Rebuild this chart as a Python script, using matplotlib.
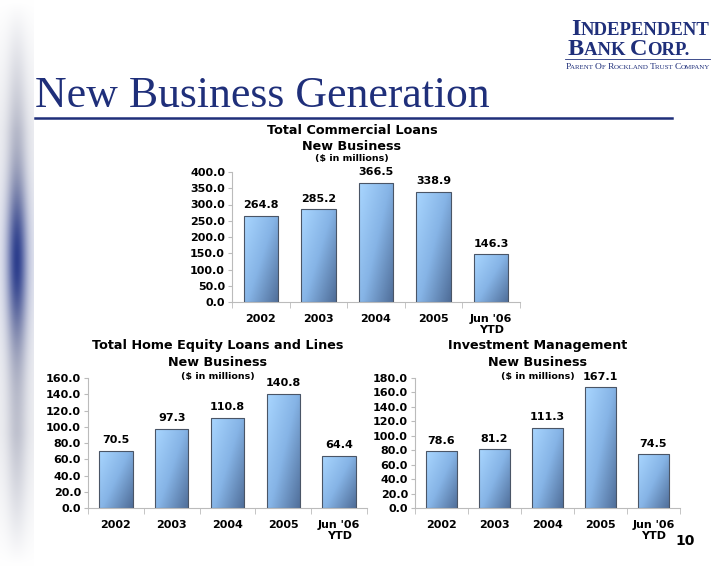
import numpy as np
import matplotlib
matplotlib.use("Agg")
import matplotlib.pyplot as plt
from matplotlib.colors import LinearSegmentedColormap
from matplotlib.lines import Line2D

categories = ["2002", "2003", "2004", "2005", "Jun '06\nYTD"]
commercial = [264.8, 285.2, 366.5, 338.9, 146.3]
home_equity = [70.5, 97.3, 110.8, 140.8, 64.4]
investment = [78.6, 81.2, 111.3, 167.1, 74.5]

W, H = 720, 566
navy = "#1f2f7a"
bar_cmap = LinearSegmentedColormap.from_list("bar", ["#a9d6ff", "#86b4e6", "#4f6d98"])

fig = plt.figure(figsize=(W / 100, H / 100), dpi=100)
fig.patch.set_facecolor("white")
renderer = fig.canvas.get_renderer()


def px_axes(left, top, right, bottom):
    # convert pixel box to figure fraction
    return fig.add_axes([left / W, 1 - bottom / H, (right - left) / W, (bottom - top) / H])


def small_caps(x, y, words, big, small, ha="left", weight="normal"):
    # draw words in small caps, x/y in pixels (baseline)
    pieces = []
    for i, w in enumerate(words):
        word = w if i == len(words) - 1 else w + " "
        pieces.append((word[0], big))
        if len(word) > 1:
            pieces.append((word[1:].upper(), small))
    texts = []
    cx = x
    for s, size in pieces:
        t = fig.text(cx / W, 1 - y / H, s, family="Liberation Serif", fontsize=size,
                     color=navy, va="baseline", ha="left", fontweight=weight)
        cx += t.get_window_extent(renderer).width
        texts.append(t)
    if ha == "right":
        shift = cx - x
        for t in texts:
            px, py = t.get_position()
            t.set_position((px - shift / W, py))


# left decorative strip
strip = fig.add_axes([0, 0, 34 / W, 1])
yy = np.linspace(0, 1, 300)[:, None]
xx = np.linspace(0, 1, 40)[None, :]
core = np.exp(-((xx - 0.5) / 0.3) ** 2)
vert = np.exp(-((yy - 0.46) / 0.15) ** 2)
outer = np.clip(np.sin(np.pi * yy) * 1.5, 0, 1)
dark = np.clip(0.12 * outer + core * (0.32 * outer + 0.55 * vert), 0, 1)
base = np.array([1.0, 1.0, 1.0])
grey = np.array([0.45, 0.47, 0.58])
deep = np.array([0.17, 0.24, 0.55])
mix = vert[..., None] * deep[None, None, :] + (1 - vert[..., None]) * grey[None, None, :]
img = base[None, None, :] * (1 - dark[..., None]) + mix * dark[..., None]
strip.imshow(img, aspect="auto", extent=[0, 1, 0, 1], origin="upper")
strip.axis("off")

# page title and rule
fig.text(35 / W, 1 - 107 / H, "New Business Generation", family="Liberation Serif",
         fontsize=31.5, color=navy, va="baseline", ha="left")
fig.add_artist(Line2D([35 / W, 672 / W], [1 - 118 / H, 1 - 118 / H], color=navy, lw=1.8))

# logo
small_caps(710, 35, ["INDEPENDENT"], 17.5, 13.5, ha="right", weight="bold")
small_caps(690, 55, ["BANK", "CORP."], 17.5, 13.5, ha="right", weight="bold")
fig.add_artist(Line2D([565 / W, 710 / W], [1 - 59 / H, 1 - 59 / H], color=navy, lw=0.6))
small_caps(710, 69, ["PARENT", "OF", "ROCKLAND", "TRUST", "COMPANY"], 6.8, 5.0, ha="right")

fig.text(685 / W, 1 - 541 / H, "10", fontsize=10, fontweight="bold", ha="center", va="center")


def chart(ax, values, ymax, step, titles, tcx, ty):
    x = np.arange(len(values))
    bars = ax.bar(x, values, width=0.6, color="none", edgecolor="#4a5566", linewidth=0.8, zorder=3)
    grad = np.linspace(0, 1, 64)
    gx, gy = np.meshgrid(grad, grad)
    g = 0.55 * gx + 0.45 * gy
    for b in bars:
        x0, y0 = b.get_x(), b.get_y()
        im = ax.imshow(g, cmap=bar_cmap, extent=[x0, x0 + b.get_width(), y0, y0 + b.get_height()],
                       origin="upper", aspect="auto", zorder=2, vmin=0, vmax=1)
        im.set_clip_path(b)
    for xi, v in zip(x, values):
        ax.annotate(f"{v:.1f}", (xi, v), xytext=(0, 4), textcoords="offset points",
                    ha="center", va="bottom", fontsize=8, fontweight="bold")
    ax.set_xlim(-0.5, len(values) - 0.5)
    ax.set_ylim(0, ymax)
    ax.set_yticks(np.arange(0, ymax + step / 2, step))
    ax.set_yticklabels([f"{t:.1f}" for t in np.arange(0, ymax + step / 2, step)])
    ax.set_xticks(x)
    ax.set_xticklabels(categories, linespacing=1.1)
    ax.set_xticks(np.arange(-0.5, len(values), 1), minor=True)
    ax.tick_params(axis="x", which="major", length=0, pad=9)
    ax.tick_params(axis="x", which="minor", length=4, color="#bbbbbb")
    ax.tick_params(axis="y", length=3, color="#bbbbbb", pad=2)
    for lab in ax.get_xticklabels() + ax.get_yticklabels():
        lab.set_fontweight("bold")
        lab.set_fontsize(8)
    for s in ["top", "right"]:
        ax.spines[s].set_visible(False)
    for s in ["left", "bottom"]:
        ax.spines[s].set_color("#bbbbbb")
        ax.spines[s].set_linewidth(0.8)
    ax.set_facecolor("none")
    for i, t in enumerate(titles):
        fig.text(tcx / W, 1 - ty[i] / H, t, ha="center", va="center", fontweight="bold",
                 fontsize=9.2 if i < 2 else 6.8)


ax1 = px_axes(232, 172, 520, 302)
chart(ax1, commercial, 400, 50, ["Total Commercial Loans", "New Business", "($ in millions)"],
      352, [130, 146, 159])

ax2 = px_axes(88, 378, 367, 508)
chart(ax2, home_equity, 160, 20, ["Total Home Equity Loans and Lines", "New Business", "($ in millions)"],
      218, [346, 362, 376])

ax3 = px_axes(415, 378, 680, 508)
chart(ax3, investment, 180, 20, ["Investment Management", "New Business", "($ in millions)"],
      538, [346, 362, 376])

fig.savefig("out.png", dpi=100, facecolor="white")
